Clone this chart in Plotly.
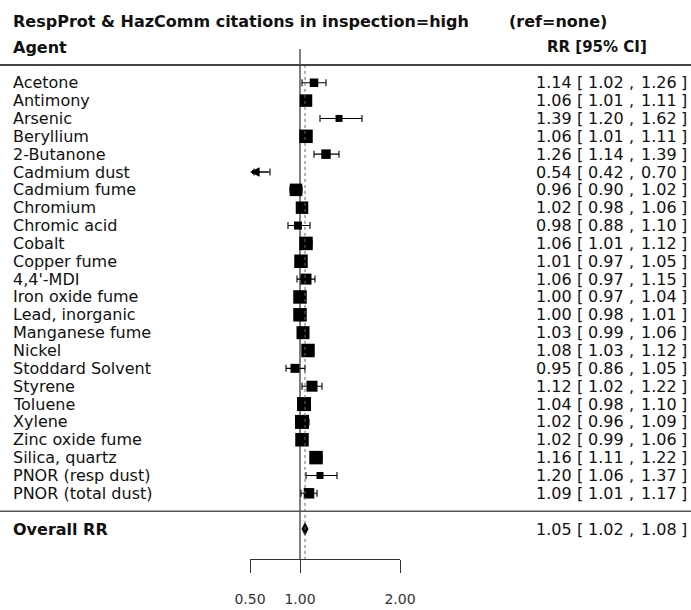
import plotly.graph_objects as go

# ---------------- data ----------------
agents = ["Acetone", "Antimony", "Arsenic", "Beryllium", "2-Butanone", "Cadmium dust",
          "Cadmium fume", "Chromium", "Chromic acid", "Cobalt", "Copper fume", "4,4'-MDI",
          "Iron oxide fume", "Lead, inorganic", "Manganese fume", "Nickel", "Stoddard Solvent",
          "Styrene", "Toluene", "Xylene", "Zinc oxide fume", "Silica, quartz",
          "PNOR (resp dust)", "PNOR (total dust)"]
rr = [1.14, 1.06, 1.39, 1.06, 1.26, 0.54, 0.96, 1.02, 0.98, 1.06, 1.01, 1.06,
      1.00, 1.00, 1.03, 1.08, 0.95, 1.12, 1.04, 1.02, 1.02, 1.16, 1.20, 1.09]
ci_lo = [1.02, 1.01, 1.20, 1.01, 1.14, 0.42, 0.90, 0.98, 0.88, 1.01, 0.97, 0.97,
         0.97, 0.98, 0.99, 1.03, 0.86, 1.02, 0.98, 0.96, 0.99, 1.11, 1.06, 1.01]
ci_hi = [1.26, 1.11, 1.62, 1.11, 1.39, 0.70, 1.02, 1.06, 1.10, 1.12, 1.05, 1.15,
         1.04, 1.01, 1.06, 1.12, 1.05, 1.22, 1.10, 1.09, 1.06, 1.22, 1.37, 1.17]
overall_label = "Overall RR"
overall_rr = 1.05
overall_lo = 1.02
overall_hi = 1.08
axis_ticks = [0.5, 1.0, 2.0]
axis_lim = [0.5, 2.0]
title_text = "RespProt & HazComm citations in inspection=high"
ref_text = "(ref=none)"
header_left = "Agent"
header_right = "RR [95% CI]"

# ---------------- style / layout ----------------
square_size = [8.5, 12.5, 7, 13.5, 9.5, 4, 12.5, 12.5, 8, 13.5, 13.5, 11, 13.5, 13.5,
               13, 13.5, 9, 11, 14, 14, 13.5, 13.5, 7, 10.5]
W, H = 691, 610
PX_UNIT = 100.0      # pixels per RR unit
X1_PX = 300.0        # pixel position of RR = 1
ROW_H = 17.85        # pixels per row
ROW0_PX = 511.15     # pixel y of row 0


def xd(px):
    return 1 + (px - X1_PX) / PX_UNIT


def yd(py):
    return (ROW0_PX - py) / ROW_H


FONT = "DejaVu Sans"
TXT = "#111111"
FS = 16

n = len(agents)
rows = [n - i for i in range(n)]
axis_row = yd(559)

fig = go.Figure()

# study estimates with CIs
fig.add_trace(go.Scatter(
    x=rr, y=rows, mode="markers", opacity=1,
    marker=dict(symbol="square", size=square_size, color="#000000", opacity=1,
                line=dict(width=0)),
    error_x=dict(type="data", symmetric=False,
                 array=[h - r for r, h in zip(rr, ci_hi)],
                 arrayminus=[(r - l) if l >= axis_lim[0] else 0 for r, l in zip(rr, ci_lo)],
                 width=3.5, thickness=1.1, color="#000000"),
    hoverinfo="skip", showlegend=False))

# summary diamond
dh = 6.0 / ROW_H
fig.add_trace(go.Scatter(
    x=[overall_lo, overall_rr, overall_hi, overall_rr, overall_lo],
    y=[-1, -1 + dh, -1, -1 - dh, -1],
    mode="lines", fill="toself", fillcolor="black",
    line=dict(color="black", width=1), hoverinfo="skip", showlegend=False))

# invisible trace to carry the short x-axis
fig.add_trace(go.Scatter(x=[1.0], y=[-100], xaxis="x2", yaxis="y", mode="markers",
                         marker=dict(opacity=0), hoverinfo="skip", showlegend=False))

shapes = [
    dict(type="line", xref="x", yref="y", x0=1, x1=1, y0=yd(49), y1=axis_row,
         line=dict(color="black", width=1)),
    dict(type="line", xref="x", yref="y", x0=overall_rr, x1=overall_rr, y0=n + 1, y1=axis_row,
         line=dict(color="#666666", width=1, dash="dot")),
    dict(type="line", xref="paper", yref="y", x0=0, x1=1, y0=n + 1, y1=n + 1,
         line=dict(color="#444444", width=2)),
    dict(type="line", xref="paper", yref="y", x0=0, x1=1, y0=0, y1=0,
         line=dict(color="#555555", width=1.5)),
]

ann = []


def txt(x, y, s, anchor="left", size=FS, bold=False):
    ann.append(dict(x=x, y=y, xref="x", yref="y", text=(f"<b>{s}</b>" if bold else s),
                    showarrow=False, xanchor=anchor, yanchor="middle", borderpad=0,
                    font=dict(family=FONT, size=size, color=TXT)))


txt(xd(12), yd(21), title_text, bold=True)
txt(xd(508), yd(21), ref_text, bold=True)
txt(xd(12), yd(47), header_left, bold=True)
txt(xd(648), yd(47), header_right, anchor="right", bold=True, size=15)


def ci_text(row, r, l, h):
    txt(xd(573), row, f"{r:.2f}", anchor="right")
    txt(xd(580), row, "[", anchor="center")
    txt(xd(625), row, f"{l:.2f}", anchor="right")
    txt(xd(631), row, ",", anchor="center")
    txt(xd(678), row, f"{h:.2f}", anchor="right")
    txt(xd(684), row, "]", anchor="center")


for lab, r, l, h, row in zip(agents, rr, ci_lo, ci_hi, rows):
    txt(xd(12), row, lab)
    ci_text(row, r, l, h)

txt(xd(12), -1, overall_label, bold=True)
ci_text(-1, overall_rr, overall_lo, overall_hi)

# arrows for CIs truncated at the axis limit
for r, l, h, row in zip(rr, ci_lo, ci_hi, rows):
    if l < axis_lim[0]:
        ann.append(dict(x=axis_lim[0], y=row, ax=h, ay=row, xref="x", yref="y",
                        axref="x", ayref="y", text="", showarrow=True,
                        arrowhead=2, arrowsize=1.6, arrowwidth=1.2, arrowcolor="black",
                        standoff=0, startstandoff=0))

fig.update_layout(
    width=W, height=H, margin=dict(l=0, r=0, t=0, b=0, pad=0, autoexpand=False),
    paper_bgcolor="white", plot_bgcolor="rgba(0,0,0,0)", showlegend=False,
    xaxis=dict(range=[xd(0), xd(W)], visible=False, fixedrange=True, automargin=False),
    yaxis=dict(range=[yd(H), yd(0)], visible=False, fixedrange=True, automargin=False),
    xaxis2=dict(domain=[(X1_PX + (axis_lim[0] - 1) * PX_UNIT) / W,
                        (X1_PX + (axis_lim[1] - 1) * PX_UNIT) / W],
                range=axis_lim, anchor="free", position=(H - 559) / H, automargin=False,
                showline=True, linecolor="#333333", linewidth=1,
                ticks="outside", ticklen=13, tickwidth=1, tickcolor="#333333",
                tickvals=axis_ticks, ticktext=[f"{t:.2f}" for t in axis_ticks],
                showgrid=False, zeroline=False, ticklabelstandoff=14,
                tickfont=dict(family=FONT, size=14, color="#333333"), fixedrange=True),
    shapes=shapes, annotations=ann,
)

fig.write_html("out.html")
